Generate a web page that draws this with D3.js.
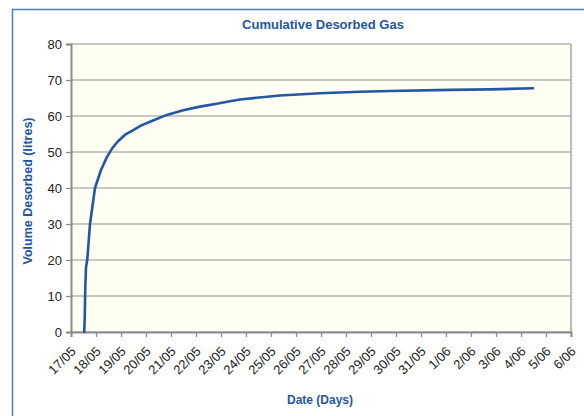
<!DOCTYPE html>
<html><head><meta charset="utf-8">
<script src="https://cdn.jsdelivr.net/npm/d3@7"></script>
<style>body{margin:0;background:#fff}svg{display:block}</style>
</head><body><svg id="c" width="584" height="416"></svg>
<script>
const times = ["2008-05-17 12:43","2008-05-17 13:12","2008-05-17 13:41","2008-05-17 14:24","2008-05-17 15:36","2008-05-17 18:14","2008-05-17 23:02","2008-05-18 04:48","2008-05-18 10:19","2008-05-18 15:30","2008-05-18 21:07","2008-05-19 04:00","2008-05-19 11:46","2008-05-19 19:30","2008-05-20 03:50","2008-05-20 19:55","2008-05-21 11:46","2008-05-22 03:50","2008-05-22 19:55","2008-05-23 08:38","2008-05-23 18:14","2008-05-25 08:38","2008-05-26 23:02","2008-05-28 13:26","2008-05-29 18:14","2008-06-01 03:50","2008-06-02 18:14","2008-06-04 11:31"];
const volumes = [0,4,12,18,20,30,40,45,48.5,51,53,54.8,56.1,57.4,58.4,60.3,61.6,62.6,63.4,64.1,64.6,65.7,66.3,66.75,66.95,67.25,67.4,67.7];
const xTickLabels = ["17/05","18/05","19/05","20/05","21/05","22/05","23/05","24/05","25/05","26/05","27/05","28/05","29/05","30/05","31/05","1/06","2/06","3/06","4/06","5/06","6/06"];
const yTicks = [0,10,20,30,40,50,60,70,80];

const parse = d3.timeParse("%Y-%m-%d %H:%M");
const data = times.map((t,i)=>({t:parse(t), v:volumes[i]}));
const start = parse("2008-05-17 00:00"), end = parse("2008-06-06 00:00");
const tickDates = d3.timeDay.range(start, d3.timeDay.offset(end,1));

const svg = d3.select("#c");
const blue = "#2356a3";
svg.append("line").attr("x1",12.5).attr("x2",12.5).attr("y1",9).attr("y2",416).attr("stroke","#4a7cc0").attr("stroke-width",1.5);
svg.append("line").attr("x1",12).attr("x2",584).attr("y1",9.5).attr("y2",9.5).attr("stroke","#4a7cc0").attr("stroke-width",1.5);

const L=71, R=571, T=44, B=332;
const x = d3.scaleTime().domain([start,end]).range([L,R]);
const y = d3.scaleLinear().domain([0,80]).range([B,T]);

svg.append("rect").attr("x",L).attr("y",T).attr("width",R-L).attr("height",B-T).attr("fill","#fefef2");
svg.append("g").selectAll("line").data(yTicks).join("line")
  .attr("x1",L).attr("x2",R).attr("y1",d=>y(d)).attr("y2",d=>y(d))
  .attr("stroke","#b4b4b4").attr("stroke-width",1.3);
svg.append("line").attr("x1",R).attr("x2",R).attr("y1",T).attr("y2",B).attr("stroke","#999").attr("stroke-width",1.3);

const ff="'Liberation Sans',Arial,sans-serif";
const yAxis = d3.axisLeft(y).tickValues(yTicks).tickSize(5).tickPadding(3);
const gy = svg.append("g").attr("transform",`translate(${L},0)`).call(yAxis);
const xAxis = d3.axisBottom(x).tickValues(tickDates).tickSize(5).tickFormat((d,i)=>xTickLabels[i]);
const gx = svg.append("g").attr("transform",`translate(0,${B})`).call(xAxis);
[gx,gy].forEach(g=>{
  g.select(".domain").attr("stroke","#8c8c8c").attr("stroke-width",2);
  g.selectAll(".tick line").attr("stroke","#8c8c8c").attr("stroke-width",1.3);
  g.selectAll("text").attr("fill","#222").style("font-family",ff).style("font-size","13px");
});
gy.selectAll(".tick text").attr("dx","-1");
gx.selectAll(".tick text").attr("text-anchor","end").attr("dy","0").attr("y",0).attr("x",0)
  .attr("dominant-baseline","central").attr("transform","translate(2,17) rotate(-45)");

svg.append("path").datum(data).attr("fill","none").attr("stroke",blue).attr("stroke-width",2.6)
  .attr("stroke-linejoin","round").attr("stroke-linecap","round")
  .attr("d", d3.line().x(d=>x(d.t)).y(d=>y(d.v)));

svg.append("text").attr("x",323).attr("y",29).attr("text-anchor","middle").attr("fill",blue)
  .style("font-family",ff).style("font-weight","bold").style("font-size","13px").text("Cumulative Desorbed Gas");
svg.append("text").attr("transform","translate(32,191) rotate(-90)").attr("text-anchor","middle").attr("fill",blue)
  .style("font-family",ff).style("font-weight","bold").style("font-size","12.5px").text("Volume Desorbed (litres)");
svg.append("text").attr("x",320).attr("y",404).attr("text-anchor","middle").attr("fill",blue)
  .style("font-family",ff).style("font-weight","bold").style("font-size","12px").text("Date (Days)");
</script></body></html>
